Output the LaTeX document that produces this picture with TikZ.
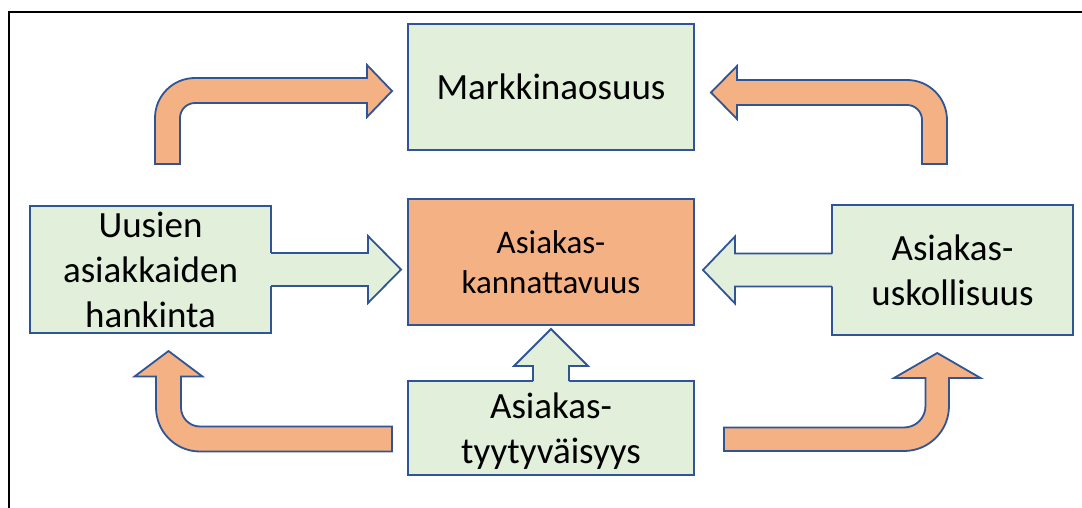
\documentclass[tikz,border=0pt]{standalone}
\usepackage{fontspec}
\setmainfont{Carlito}
\usetikzlibrary{calc}
\definecolor{boxgreen}{HTML}{E2EFDA}
\definecolor{boxorange}{HTML}{F4B183}
\definecolor{edgeblue}{HTML}{2F5597}

\begin{document}
\begin{tikzpicture}[x=1pt,y=-1pt,
  box/.style={draw=edgeblue, line width=1.8pt, fill=boxgreen, outer sep=0pt,
    inner sep=0pt, align=center, font=\fontsize{37}{45}\selectfont},
  hubbox/.style={box, fill=boxorange, font=\fontsize{33}{40}\selectfont},
  greenfill/.style={fill=boxgreen},
  outline/.style={draw=edgeblue, line width=1.8pt, line join=miter},
  bentarrow/.style={fill=boxorange, draw=edgeblue, line width=1.8pt, line join=miter}]

\useasboundingbox (0,0) rectangle (1082,508);
\fill[white] (0,0) rectangle (1082,508);

% outer frame
\draw[line width=2pt] (9,508) -- (9,12) -- (1082,12);

% boxes
\node[box, minimum width=286pt, minimum height=126pt] (mo) at (551,87) {Markkinaosuus};
\node[hubbox, minimum width=286pt, minimum height=126pt] (ak) at (551,262) {Asiakas-\\kannattavuus};
\node[box, minimum width=286pt, minimum height=94pt, text depth=0pt] (ty) at (551,428) {Asiakas-\\tyytyväisyys};
\node[box, minimum width=241pt, minimum height=127pt] (ue) at (150.5,269.5) {Uusien\\asiakkaiden\\hankinta};
\node[box, minimum width=241pt, minimum height=130pt] (uk) at (952.5,270) {Asiakas-\\uskollisuus};

% block arrow out of the acquisition box
\begin{scope}[shift={(ue.east)}]
  \fill[greenfill] (-2,-16.5) -- (97,-16.5) -- (97,-33.5) -- (130,0) -- (97,33.5) -- (97,16.5) -- (-2,16.5) -- cycle;
  \draw[outline] (0,-16.5) -- (97,-16.5) -- (97,-33.5) -- (130,0) -- (97,33.5) -- (97,16.5) -- (0,16.5);
\end{scope}

% block arrow out of the loyalty box
\begin{scope}[shift={(uk.west)}, xscale=-1]
  \fill[greenfill] (-2,-16.5) -- (97,-16.5) -- (97,-33.5) -- (129,0) -- (97,33.5) -- (97,16.5) -- (-2,16.5) -- cycle;
  \draw[outline] (0,-16.5) -- (97,-16.5) -- (97,-33.5) -- (129,0) -- (97,33.5) -- (97,16.5) -- (0,16.5);
\end{scope}

% block arrow out of the satisfaction box
\begin{scope}[shift={(ty.north)}]
  \fill[greenfill] (-18,2) -- (-18,-15) -- (-37,-15) -- (0,-52) -- (37,-15) -- (18,-15) -- (18,2) -- cycle;
  \draw[outline] (-18,0) -- (-18,-15) -- (-37,-15) -- (0,-52) -- (37,-15) -- (18,-15) -- (18,0);
\end{scope}

% bent arrows around the hub
\draw[bentarrow] (155,164) -- (155,118) .. controls (155,95.9) and (172.9,78) .. (195,78)
  -- (367,78) -- (367,65) -- (392,91) -- (367,117) -- (367,103) -- (195,103)
  .. controls (186.7,103) and (180,109.7) .. (180,118) -- (180,164) -- cycle;

\draw[bentarrow] (947,164) -- (947,120) .. controls (947,97.9) and (929.1,80) .. (907,80)
  -- (737,80) -- (737,66) -- (711,92.5) -- (737,119) -- (737,105) -- (907,105)
  .. controls (915.3,105) and (922,111.7) .. (922,120) -- (922,164) -- cycle;

\draw[bentarrow] (392,426.5) -- (200,426.5) .. controls (189.5,426.5) and (181,418) .. (181,407.5)
  -- (181,376.5) -- (202.5,376.5) -- (168.5,351) -- (134.5,376.5) -- (156,376.5) -- (156,407.5)
  .. controls (156,431.8) and (175.7,451.5) .. (200,451.5) -- (392,451.5) -- cycle;

\draw[bentarrow] (724,427.5) -- (904,427.5) .. controls (915.9,427.5) and (925.5,417.9) .. (925.5,406)
  -- (925.5,378) -- (894,378) -- (937.25,353) -- (980.5,378) -- (949,378) -- (949,406)
  .. controls (949,430.9) and (928.9,451) .. (904,451) -- (724,451) -- cycle;

\end{tikzpicture}
\end{document}
